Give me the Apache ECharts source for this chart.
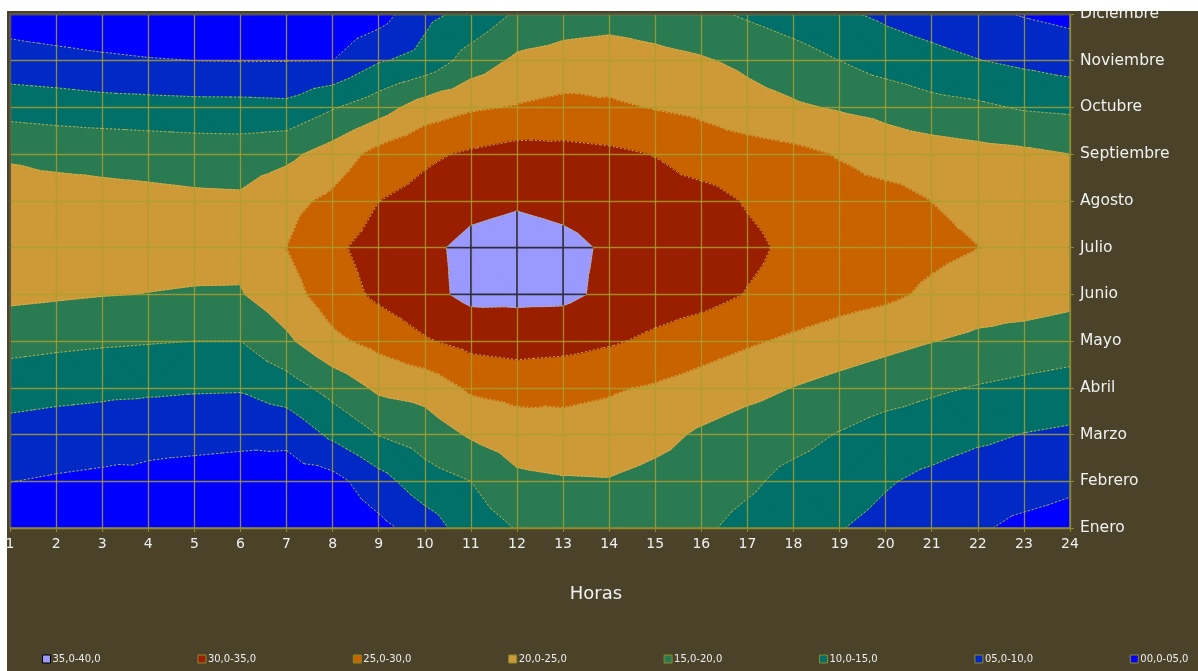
<!DOCTYPE html>
<html>
<head>
<meta charset="utf-8">
<title>Temperatura horaria por mes</title>
<script src="https://cdn.jsdelivr.net/npm/echarts@6/dist/echarts.min.js"></script>
<style>
  html, body { margin: 0; padding: 0; background: #ffffff; }
  #chart { position: absolute; left: 7px; top: 11px; width: 1191px; height: 660px; background: #4a432a; }
</style>
</head>
<body>
<div id="chart"></div>
<script>
// Axis categories
const hourTicks = [1, 2, 3, 4, 5, 6, 7, 8, 9, 10, 11, 12, 13, 14, 15, 16, 17, 18, 19, 20, 21, 22, 23, 24];
const months = ['Enero', 'Febrero', 'Marzo', 'Abril', 'Mayo', 'Junio', 'Julio',
                'Agosto', 'Septiembre', 'Octubre', 'Noviembre', 'Diciembre'];

// Temperature (°C) for each month, one value per hour 1..24
const ene = [2.5, 2.0, 1.5, 1.2, 0.8, 0.6, 0.5, 1.0, 3.6, 7.3, 12.6, 15.2, 16.5, 17.0, 16.8, 15.8, 13.5, 12.0, 10.2, 8.6, 7.05, 5.5, 3.98, 3.3];
const feb = [5.07, 4.52, 4.1, 4.21, 3.6, 3.3, 2.6, 3.3, 8.1, 12.9, 15.0, 18.93, 19.52, 19.7, 18.5, 17.5, 15.9, 13.5, 12.36, 10.42, 8.86, 7.3, 6.98, 5.88];
const mar = [8.1, 7.5, 7.1, 6.0, 6.15, 5.95, 6.24, 11.0, 15.14, 17.3, 20.56, 22.5, 23.5, 23.0, 21.5, 19.28, 17.6, 16.63, 14.72, 12.9, 12.22, 11.0, 9.85, 9.19];
const abr = [12.26, 11.67, 11.23, 11.0, 10.58, 10.45, 12.72, 16.8, 20.9, 21.8, 25.78, 26.67, 26.09, 25.5, 24.5, 23.07, 21.48, 19.87, 18.44, 17.09, 15.75, 14.7, 13.83, 13.06];
const may = [16.65, 16.09, 15.64, 15.3, 15.0, 15.0, 19.06, 23.9, 26.5, 29.5, 31.56, 32.22, 31.84, 30.61, 29.0, 27.23, 25.63, 24.14, 22.73, 21.4, 20.1, 19.04, 18.11, 17.32];
const jun = [21.1, 20.64, 20.18, 19.92, 19.71, 19.68, 23.0, 27.5, 31.0, 33.5, 36.2, 36.08, 36.0, 34.0, 32.5, 31.8, 29.78, 28.44, 27.0, 26.0, 24.1, 22.5, 22.5, 21.5];
const jul = [22.3, 22.2, 21.8, 21.5, 21.3, 21.2, 25.0, 29.0, 32.0, 34.0, 36.1, 36.9, 36.1, 34.4, 33.8, 33.0, 31.0, 29.0, 28.3, 27.25, 26.15, 25.05, 24.0, 23.0];
const ago = [21.9, 21.96, 21.32, 21.17, 20.83, 20.69, 23.6, 26.0, 29.95, 31.7, 33.76, 34.46, 33.8, 33.0, 32.0, 31.7, 29.63, 28.2, 27.2, 26.89, 24.95, 23.8, 22.6, 22.0];
const sep = [19.5, 18.75, 18.68, 18.26, 17.87, 17.68, 18.8, 22.1, 26.58, 29.08, 30.7, 31.92, 31.52, 30.95, 29.84, 27.72, 27.24, 26.24, 24.64, 22.5, 22.33, 21.53, 20.96, 20.0];
const oct = [13.07, 12.6, 11.99, 11.74, 11.49, 11.45, 11.2, 14.6, 17.8, 22.39, 24.37, 25.3, 26.27, 25.65, 24.76, 23.9, 21.78, 20.62, 19.55, 18.65, 16.64, 15.85, 14.56, 14.05];
const nov = [6.93, 6.41, 5.77, 5.29, 5.0, 4.87, 4.9, 5.0, 9.59, 11.52, 17.21, 20.95, 21.89, 22.69, 21.38, 20.48, 19.0, 17.18, 15.0, 12.67, 11.51, 10.16, 9.0, 7.82];
const dic = [2.82, 2.0, 1.5, 1.2, 1.0, 1.0, 1.0, 1.5, 2.84, 8.85, 11.24, 15.66, 17.5, 17.8, 17.5, 16.2, 14.35, 12.54, 10.73, 9.11, 7.63, 6.15, 4.68, 3.67];

// Contour bands, from coldest to warmest
const levels = [0, 5, 10, 15, 20, 25, 30, 35, 40];
const bandColors = ['#0000ff', '#0029c6', '#007068', '#2a7a52', '#cd9a37', '#c86300', '#9a1f00', '#9999ff'];
const bandLabels = ['00,0-05,0', '05,0-10,0', '10,0-15,0', '15,0-20,0', '20,0-25,0', '25,0-30,0', '30,0-35,0', '35,0-40,0'];

const rows = [ene, feb, mar, abr, may, jun, jul, ago, sep, oct, nov, dic];

// One datum per grid cell: [hour, month index (1-based)] of its lower-left corner
const cells = [];
for (let m = 1; m < months.length; m++) {
  for (let h = 1; h < hourTicks.length; h++) cells.push([h, m]);
}

function valueAt(h, m) { return rows[m - 1][h - 1]; }

// Corner points of a cell in pixels, carrying the temperature
function cellCorners(api, h, m) {
  const pts = [[h, m], [h + 1, m], [h + 1, m + 1], [h, m + 1]];
  return pts.map(function (p) {
    const c = api.coord(p);
    return { x: c[0], y: c[1], v: valueAt(p[0], p[1]) };
  });
}

// Each cell is split into four triangles around its centre point
function cellTriangles(corners) {
  const c = {
    x: (corners[0].x + corners[2].x) / 2,
    y: (corners[0].y + corners[2].y) / 2,
    v: (corners[0].v + corners[1].v + corners[2].v + corners[3].v) / 4
  };
  const tris = [];
  for (let k = 0; k < 4; k++) tris.push([c, corners[k], corners[(k + 1) % 4]]);
  return tris;
}

// Keep the part of a polygon above (or below) a level, interpolating linearly
function clipPoly(poly, L, keepAbove) {
  const out = [];
  const n = poly.length;
  for (let k = 0; k < n; k++) {
    const a = poly[k], b = poly[(k + 1) % n];
    const ina = keepAbove ? a.v >= L : a.v <= L;
    const inb = keepAbove ? b.v >= L : b.v <= L;
    if (ina) out.push(a);
    if (ina !== inb) {
      const t = (L - a.v) / (b.v - a.v);
      out.push({ x: a.x + t * (b.x - a.x), y: a.y + t * (b.y - a.y), v: L });
    }
  }
  return out;
}

function renderBands(params, api) {
  const h = api.value(0), m = api.value(1);
  const tris = cellTriangles(cellCorners(api, h, m));
  const children = [];
  tris.forEach(function (tri) {
    for (let b = 0; b < bandColors.length; b++) {
      const lo = b === 0 ? -1e9 : levels[b];
      const hi = b === bandColors.length - 1 ? 1e9 : levels[b + 1];
      let poly = clipPoly(tri, lo, true);
      if (poly.length < 3) continue;
      poly = clipPoly(poly, hi, false);
      if (poly.length < 3) continue;
      children.push({
        type: 'polygon',
        shape: { points: poly.map(function (p) { return [p.x, p.y]; }) },
        style: { fill: bandColors[b], stroke: bandColors[b], lineWidth: 1.3 },
        silent: true
      });
    }
  });
  return { type: 'group', children: children };
}

// Thin dotted isolines at every band boundary
function renderIsolines(params, api) {
  const h = api.value(0), m = api.value(1);
  const tris = cellTriangles(cellCorners(api, h, m));
  const children = [];
  tris.forEach(function (tri) {
    for (let li = 1; li < levels.length - 1; li++) {
      const L = levels[li];
      const hits = [];
      for (let k = 0; k < 3; k++) {
        const a = tri[k], b = tri[(k + 1) % 3];
        const da = a.v - L + 1e-9, db = b.v - L + 1e-9;
        if (da * db < 0) {
          const t = da / (da - db);
          hits.push([a.x + t * (b.x - a.x), a.y + t * (b.y - a.y)]);
        }
      }
      if (hits.length === 2) {
        children.push({
          type: 'line',
          shape: { x1: hits[0][0], y1: hits[0][1], x2: hits[1][0], y2: hits[1][1] },
          style: { stroke: 'rgba(204,184,90,0.88)', lineWidth: 1, lineDash: [2, 2] },
          silent: true
        });
      }
    }
  });
  return { type: 'group', children: children };
}

// Grid lines crossing the warmest band are drawn dark
function renderHotGrid(params, api) {
  const h = api.value(0), m = api.value(1);
  const c = cellCorners(api, h, m);
  const edges = [[c[0], c[1]], [c[3], c[0]]];
  if (m + 1 === months.length) edges.push([c[2], c[3]]);
  if (h + 1 === hourTicks.length) edges.push([c[1], c[2]]);
  const L = levels[levels.length - 2];
  const children = [];
  edges.forEach(function (e) {
    const a = e[0], b = e[1];
    if (a.v < L && b.v < L) return;
    let p = a, q = b;
    if (a.v < L) { const t = (L - a.v) / (b.v - a.v); p = { x: a.x + t * (b.x - a.x), y: a.y + t * (b.y - a.y) }; }
    if (b.v < L) { const t = (L - a.v) / (b.v - a.v); q = { x: a.x + t * (b.x - a.x), y: a.y + t * (b.y - a.y) }; }
    children.push({
      type: 'line',
      shape: { x1: p.x, y1: p.y, x2: q.x, y2: q.y },
      style: { stroke: '#2c2c52', lineWidth: 1.6 },
      silent: true
    });
  });
  return { type: 'group', children: children };
}

const olive = '#8e8a2e';
const gridLine = { show: true, lineStyle: { color: 'rgba(170,160,46,0.82)', width: 1.3 } };

// Legend entries, warmest first, spread evenly along the bottom
const legendOrder = [7, 6, 5, 4, 3, 2, 1, 0];
const legendSeries = legendOrder.map(function (b) {
  return {
    type: 'custom', name: bandLabels[b], data: [],
    renderItem: function () { return null; },
    itemStyle: { color: bandColors[b] }
  };
});
const legends = legendOrder.map(function (b, i) {
  return {
    left: 35 + i * 155.4, top: 643, orient: 'horizontal', selectedMode: false,
    itemWidth: 8, itemHeight: 8, itemGap: 0, icon: 'rect', padding: 0,
    textStyle: { color: '#eeeeee', fontSize: 10, fontFamily: 'DejaVu Sans', padding: [0, 0, 0, -3] },
    data: [{
      name: bandLabels[b],
      itemStyle: { borderColor: b === 7 ? '#000000' : '#8c8a2a', borderWidth: 1 }
    }]
  };
});

const chart = echarts.init(document.getElementById('chart'), null, { renderer: 'canvas' });
chart.setOption({
  animation: false,
  backgroundColor: '#4a432a',
  textStyle: { fontFamily: 'DejaVu Sans' },
  grid: { left: 3, top: 3, right: 128, bottom: 143, outerBoundsMode: 'none', containLabel: false },
  xAxis: [{
    type: 'value', min: 1, max: 24, interval: 1, position: 'bottom', z: 3,
    name: 'Horas', nameLocation: 'middle', nameGap: 57,
    nameTextStyle: { color: '#f2f2f2', fontSize: 18, fontFamily: 'DejaVu Sans', padding: [0, 0, 0, 112] },
    axisLine: { show: true, lineStyle: { color: olive, width: 1.5 } },
    axisTick: { show: true, length: 4, lineStyle: { color: olive } },
    axisLabel: {
      color: '#f0f0f0', fontSize: 14, margin: 9, showMinLabel: true, showMaxLabel: true,
      formatter: function (v) { return String(hourTicks[v - 1]); }
    },
    splitLine: gridLine
  }, {
    type: 'value', min: 1, max: 24, position: 'top', z: 3,
    axisLine: { show: true, lineStyle: { color: '#5a5741', width: 2 } },
    axisTick: { show: false }, axisLabel: { show: false }, splitLine: { show: false }
  }],
  yAxis: [{
    type: 'value', min: 1, max: 12, interval: 1, position: 'right', z: 3,
    axisLine: { show: true, lineStyle: { color: olive, width: 1.5 } },
    axisTick: { show: true, length: 4, lineStyle: { color: olive } },
    axisLabel: {
      color: '#f0f0f0', fontSize: 15.5, margin: 10, showMinLabel: true, showMaxLabel: true,
      formatter: function (v) { return months[v - 1]; }
    },
    splitLine: gridLine
  }, {
    type: 'value', min: 1, max: 12, position: 'left', z: 3,
    axisLine: { show: true, lineStyle: { color: '#5a5741', width: 2 } },
    axisTick: { show: false }, axisLabel: { show: false }, splitLine: { show: false }
  }],
  legend: legends,
  series: [{
    type: 'custom', name: 'bandas', z: 1, silent: true,
    renderItem: renderBands, data: cells
  }, {
    type: 'custom', name: 'isolineas', z: 2, silent: true,
    renderItem: renderIsolines, data: cells
  }, {
    type: 'custom', name: 'rejilla', z: 5, silent: true,
    renderItem: renderHotGrid, data: cells
  }].concat(legendSeries)
});
</script>
</body>
</html>
